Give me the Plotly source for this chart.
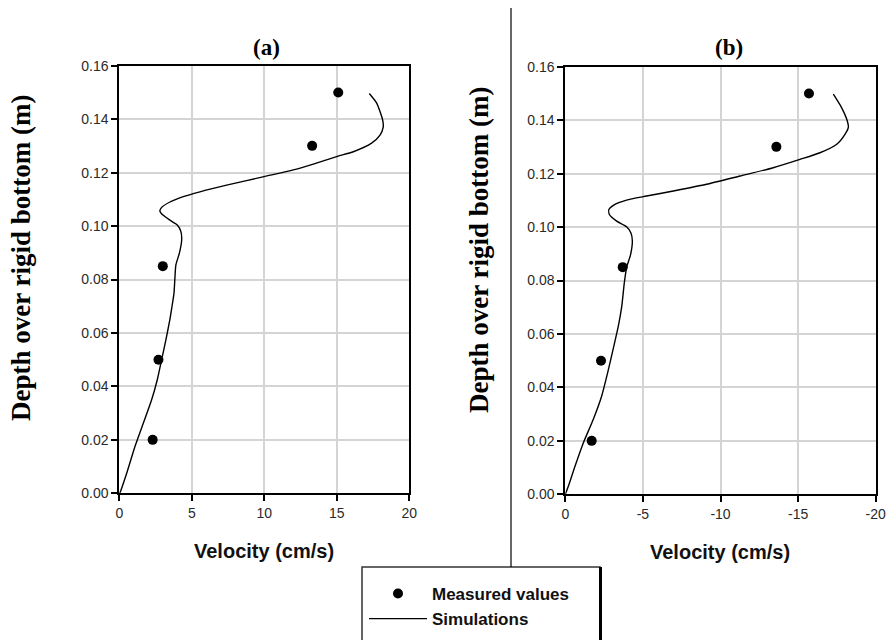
import plotly.graph_objects as go

# ---------------- data ----------------
meas_depth = [0.150, 0.130, 0.085, 0.050, 0.020]
meas_vel_a = [15.1, 13.3, 3.0, 2.7, 2.3]
meas_vel_b = [-15.7, -13.6, -3.7, -2.3, -1.7]

sim_depth_a = [0.1496, 0.146, 0.1397, 0.137, 0.134, 0.131, 0.1278, 0.126, 0.1232, 0.121,
               0.1185, 0.1153, 0.1128, 0.111, 0.109, 0.107, 0.1056, 0.104, 0.1022, 0.1004,
               0.0979, 0.0947, 0.0898, 0.0854, 0.081, 0.0748, 0.0698, 0.0651, 0.0576, 0.050,
               0.0425, 0.035, 0.0263, 0.0175, 0.0075, 0.0003, 0.0]
sim_vel_a = [17.24, 17.75, 18.16, 18.2, 17.98, 17.4, 16.14, 14.99, 13.38, 12.0,
             9.98, 7.4, 5.56, 4.41, 3.49, 2.92, 2.8, 3.03, 3.49, 4.0,
             4.25, 4.3, 4.14, 3.9, 3.84, 3.77, 3.63, 3.49, 3.22, 2.92,
             2.62, 2.23, 1.66, 1.08, 0.51, 0.05, 0.0]

sim_depth_b = [0.1497, 0.1447, 0.1397, 0.1374, 0.1347, 0.131, 0.1278, 0.1253, 0.1222, 0.1191,
               0.116, 0.1135, 0.1116, 0.1101, 0.1085, 0.1066, 0.1047, 0.1022, 0.1001, 0.0978,
               0.0948, 0.0898, 0.0848, 0.079, 0.070, 0.063, 0.0545, 0.0455, 0.0367, 0.028,
               0.0192, 0.0104, 0.0029, 0.0]
sim_vel_b = [-17.27, -17.8, -18.17, -18.24, -18.02, -17.49, -16.41, -15.12, -13.4, -11.26,
             -9.1, -6.96, -5.24, -3.95, -3.2, -2.81, -2.84, -3.31, -3.95, -4.23,
             -4.32, -4.21, -3.95, -3.8, -3.63, -3.42, -3.09, -2.73, -2.34, -1.8,
             -1.16, -0.62, -0.19, 0.0]

x_ticks_a = [0, 5, 10, 15, 20]
x_labels_a = ["0", "5", "10", "15", "20"]
x_ticks_b = [0, -5, -10, -15, -20]
x_labels_b = ["0", "-5", "-10", "-15", "-20"]
y_ticks = [0.00, 0.02, 0.04, 0.06, 0.08, 0.10, 0.12, 0.14, 0.16]
y_labels = ["0.00", "0.02", "0.04", "0.06", "0.08", "0.10", "0.12", "0.14", "0.16"]

panel_titles = ["(a)", "(b)"]
x_title = "Velocity (cm/s)"
y_title = "Depth over rigid bottom (m)"
legend_names = ["Measured values", "Simulations"]

# ---------------- figure ----------------
W, H = 888, 640
fig = go.Figure()

fig.add_trace(go.Scatter(x=meas_vel_a, y=meas_depth, mode="markers",
                         name="<b>%s</b>" % legend_names[0],
                         marker=dict(color="black", size=10), xaxis="x", yaxis="y"))
fig.add_trace(go.Scatter(x=sim_vel_a, y=sim_depth_a, mode="lines",
                         name="<b>%s</b>" % legend_names[1],
                         line=dict(color="black", width=1.4, shape="spline", smoothing=0.6),
                         xaxis="x", yaxis="y"))
fig.add_trace(go.Scatter(x=meas_vel_b, y=meas_depth, mode="markers", showlegend=False,
                         marker=dict(color="black", size=10), xaxis="x2", yaxis="y2"))
fig.add_trace(go.Scatter(x=sim_vel_b, y=sim_depth_b, mode="lines", showlegend=False,
                         line=dict(color="black", width=1.4, shape="spline", smoothing=0.6),
                         xaxis="x2", yaxis="y2"))

tickfont = dict(family="Arial, Liberation Sans", size=14, color="#2a2a2a")
common = dict(showline=True, linecolor="black", linewidth=2, mirror=True,
              showgrid=True, gridcolor="#d4d4d4", gridwidth=1.5,
              ticks="outside", ticklen=6, tickwidth=1.5, tickcolor="black",
              tickfont=tickfont, zeroline=False, automargin=False)

def px(x):
    return x / W

def py(y):
    return 1 - y / H

fig.update_layout(
    width=W, height=H,
    margin=dict(l=0, r=0, t=0, b=0, autoexpand=False),
    paper_bgcolor="white", plot_bgcolor="white",
    xaxis=dict(domain=[px(119.3), px(409.3)], range=[0, 20], tickvals=x_ticks_a,
               ticktext=x_labels_a, anchor="y", **common),
    yaxis=dict(domain=[py(493.3), py(65.7)], range=[0, 0.16], tickvals=y_ticks,
               ticktext=y_labels, anchor="x", **common),
    xaxis2=dict(domain=[px(565.3), px(875.7)], range=[0, -20], tickvals=x_ticks_b,
                ticktext=x_labels_b, anchor="y2", **common),
    yaxis2=dict(domain=[py(494.3), py(66.7)], range=[0, 0.16], tickvals=y_ticks,
                ticktext=y_labels, anchor="x2", **common),
    showlegend=True,
    legend=dict(x=px(364), y=py(576), xanchor="left", yanchor="top",
                bgcolor="rgba(0,0,0,0)", borderwidth=0,
                font=dict(family="Arial, Liberation Sans", size=17, color="#111"),
                tracegroupgap=0, itemwidth=58),
)

serif_b = dict(family="Times New Roman, Liberation Serif", size=23, color="black")
annos = []
for t, cx in zip(panel_titles, [266.5, 729]):
    annos.append(dict(text="<b>%s</b>" % t, x=px(cx), y=py(47), xref="paper", yref="paper",
                      showarrow=False, xanchor="center", yanchor="middle", font=serif_b))
for cx, cy in [(21, 258), (479, 250)]:
    annos.append(dict(text="<b>%s</b>" % y_title, x=px(cx), y=py(cy), xref="paper", yref="paper",
                      showarrow=False, xanchor="center", yanchor="middle", textangle=-90,
                      font=dict(family="Times New Roman, Liberation Serif", size=27, color="black")))
for cx, cy in [(264, 551), (720, 552)]:
    annos.append(dict(text="<b>%s</b>" % x_title, x=px(cx), y=py(cy), xref="paper", yref="paper",
                      showarrow=False, xanchor="center", yanchor="middle",
                      font=dict(family="Arial, Liberation Sans", size=20, color="#111")))
fig.update_layout(annotations=annos)

# divider between panels
fig.add_shape(type="line", xref="paper", yref="paper", x0=px(511), x1=px(511),
              y0=py(8), y1=py(567), line=dict(color="black", width=1.2))
# legend frame (runs off the bottom edge, thicker right side like a shadow)
fig.add_shape(type="rect", xref="paper", yref="paper", x0=px(362), x1=px(600),
              y0=py(645), y1=py(567), line=dict(color="#333", width=1.5),
              fillcolor="rgba(0,0,0,0)", layer="below")
fig.add_shape(type="line", xref="paper", yref="paper", x0=px(600.5), x1=px(600.5),
              y0=py(645), y1=py(567), line=dict(color="black", width=3))

fig.write_html("out.html")
